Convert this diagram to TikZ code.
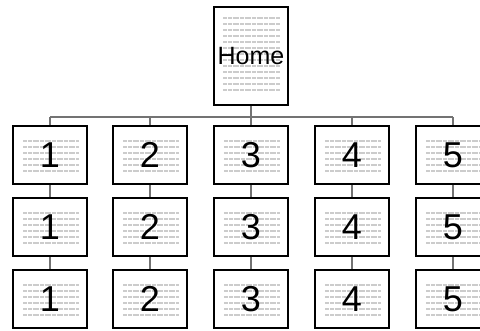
\documentclass[tikz,border=0pt]{standalone}
\usepackage{fontspec}
\setmainfont{Liberation Sans}
\usetikzlibrary{calc}
\tikzset{
  txtline/.style={draw=black!20, line width=1.5pt, dash pattern=on 2pt off 0.4pt},
  conn/.style={draw=black!55, line width=1.3pt},
  pagebox/.style={draw=black, line width=1.6pt, fill=white, inner sep=0pt,
    minimum width=73.5pt, minimum height=58.5pt,
    font=\fontsize{36}{36}\selectfont,
    path picture={\foreach \d in {-16,-10,-4,2,8,14}
      \draw[txtline] ([shift={(-27pt,\d pt)}]path picture bounding box.center) -- ([shift={(29pt,\d pt)}]path picture bounding box.center);}},
  homebox/.style={draw=black, line width=1.6pt, fill=white, inner sep=0pt,
    minimum width=74.5pt, minimum height=98.5pt,
    font=\fontsize{25}{25}\selectfont,
    path picture={\foreach \d in {-34,-28,...,38}
      \draw[txtline] ([shift={(-28pt,\d pt)}]path picture bounding box.center) -- ([shift={(29pt,\d pt)}]path picture bounding box.center);}}
}
\begin{document}
\begin{tikzpicture}[x=1pt,y=-1pt]
\useasboundingbox (0,0) rectangle (480,330);
\clip (0,0) rectangle (480,330);
\fill[white] (0,0) rectangle (480,330);
\node[homebox] (home) at (251,56) {Home};
\foreach \c/\x in {1/50,2/150,3/251,4/352,5/453} {
  \node[pagebox] (c\c r1) at (\x,155) {\c};
  \node[pagebox] (c\c r2) at (\x,227) {\c};
  \node[pagebox] (c\c r3) at (\x,299) {\c};
}
\coordinate (bus) at (251,117);
\draw[conn] (home.south) -- (home.south |- bus);
\draw[conn] (c1r1.north |- bus) -- (c5r1.north |- bus);
\foreach \c in {1,...,5} {
  \draw[conn] (c\c r1.north) -- (c\c r1.north |- bus);
  \draw[conn] (c\c r1.south) -- (c\c r2.north);
  \draw[conn] (c\c r2.south) -- (c\c r3.north);
}
\end{tikzpicture}
\end{document}
